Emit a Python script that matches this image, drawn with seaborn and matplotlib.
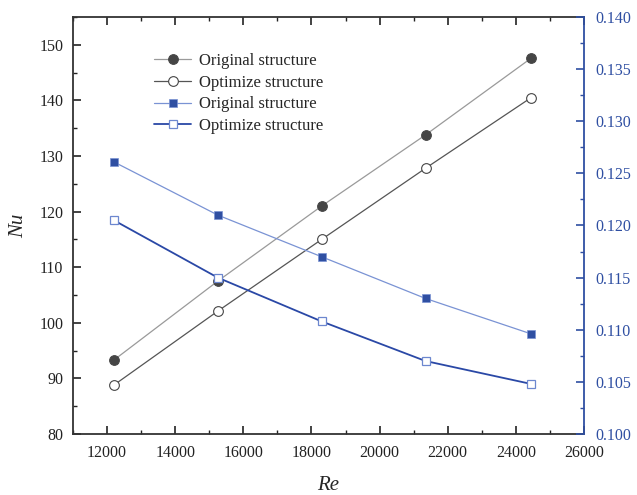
import pandas as pd
import matplotlib
matplotlib.use("Agg")
import matplotlib.pyplot as plt
import seaborn as sns
from matplotlib.ticker import AutoMinorLocator

# data
re_vals = [12200, 15250, 18300, 21350, 24450]
nu_original = [93.3, 107.5, 121.0, 133.8, 147.6]
nu_optimize = [88.8, 102.1, 115.0, 127.8, 140.5]
f_original = [0.1261, 0.1210, 0.1170, 0.1130, 0.1096]
f_optimize = [0.1205, 0.1150, 0.1108, 0.1070, 0.1048]

df = pd.DataFrame({
    "Re": re_vals,
    "nu_orig": nu_original,
    "nu_opt": nu_optimize,
    "f_orig": f_original,
    "f_opt": f_optimize,
})

sns.set_style("ticks")
plt.rcParams["font.family"] = ["Liberation Serif", "DejaVu Serif"]

fig = plt.figure(figsize=(6.37, 4.95), dpi=100)
ax = fig.add_axes([0.1146, 0.1232, 0.8022, 0.8425])
ax2 = ax.twinx()

blue = "#2f4fa2"
sns.lineplot(data=df, x="Re", y="nu_orig", ax=ax, color="#9a9a9a", lw=0.9,
             marker="o", markersize=7, markerfacecolor="#454545",
             markeredgecolor="#454545", label="Original structure")
sns.lineplot(data=df, x="Re", y="nu_opt", ax=ax, color="#555555", lw=0.9,
             marker="o", markersize=7, markerfacecolor="white",
             markeredgecolor="#454545", markeredgewidth=0.8, label="Optimize structure")
sns.lineplot(data=df, x="Re", y="f_orig", ax=ax2, color="#7a93d4", lw=0.9,
             marker="s", markersize=6, markerfacecolor=blue,
             markeredgecolor="#7a93d4", markeredgewidth=0.5, label="Original structure")
sns.lineplot(data=df, x="Re", y="f_opt", ax=ax2, color="#2a48a6", lw=1.3,
             marker="s", markersize=6, markerfacecolor="white",
             markeredgecolor="#6c87cf", markeredgewidth=0.9, label="Optimize structure")

ax.set_xlim(11000, 26000)
ax.set_ylim(80, 155)
ax2.set_ylim(0.100, 0.140)
ax.set_xticks(range(12000, 26001, 2000))
ax.set_yticks(range(80, 151, 10))
ax2.set_yticks([0.100, 0.105, 0.110, 0.115, 0.120, 0.125, 0.130, 0.135, 0.140])
ax2.set_yticklabels([f"{v:.3f}" for v in ax2.get_yticks()])

ax.set_xlabel("Re", fontsize=15, style="italic", labelpad=11)
ax.set_ylabel("Nu", fontsize=15, style="italic", labelpad=8)
ax2.set_ylabel("")

for a in (ax, ax2):
    a.xaxis.set_minor_locator(AutoMinorLocator(2))
    a.yaxis.set_minor_locator(AutoMinorLocator(2))
ax.tick_params(which="both", direction="in", top=True, labelsize=11.5, colors="#222222")
ax.tick_params(which="major", length=6, width=1.2)
ax.tick_params(which="minor", length=3, width=1.0)
ax.tick_params(axis="x", which="major", pad=8)
ax.tick_params(axis="y", which="major", pad=7)
ax2.tick_params(which="both", direction="in", labelsize=11.5, colors=blue)
ax2.tick_params(which="major", length=6, width=1.2, pad=8)
ax2.tick_params(which="minor", length=3, width=1.0)

for s in ("left", "bottom", "top"):
    ax.spines[s].set_linewidth(1.3)
    ax.spines[s].set_color("#333333")
ax2.spines["right"].set_color(blue)
ax2.spines["right"].set_linewidth(1.3)
ax2.spines["left"].set_visible(False)
ax2.spines["top"].set_visible(False)
ax2.spines["bottom"].set_visible(False)
ax.spines["right"].set_visible(False)

h1, l1 = ax.get_legend_handles_labels()
h2, l2 = ax2.get_legend_handles_labels()
ax.get_legend().remove()
ax2.get_legend().remove()
ax2.legend(h1 + h2, l1 + l2, loc="upper left", bbox_to_anchor=(0.13, 0.95),
           frameon=False, fontsize=12, handlelength=2.2, labelspacing=0.35,
           handletextpad=0.5)

fig.savefig("out.png", dpi=100)
